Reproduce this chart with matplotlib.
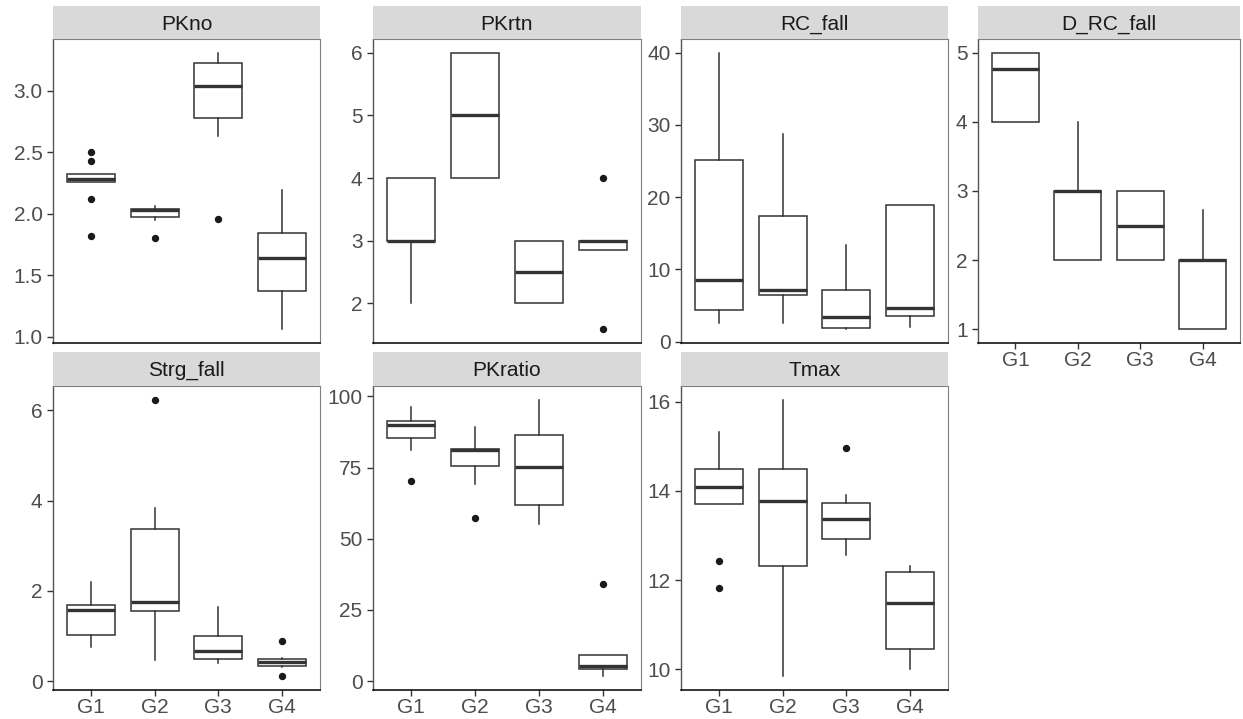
import matplotlib
matplotlib.use('Agg')
import matplotlib.pyplot as plt

groups = ['G1', 'G2', 'G3', 'G4']

# five-number summaries per group: lower whisker, q1, median, q3, upper whisker
pkno_lo = [2.255, 1.95, 2.63, 1.06]
pkno_q1 = [2.255, 1.97, 2.78, 1.37]
pkno_med = [2.28, 2.03, 3.04, 1.64]
pkno_q3 = [2.32, 2.04, 3.23, 1.84]
pkno_hi = [2.32, 2.06, 3.31, 2.19]
pkno_out = [[2.50, 2.43, 2.12, 1.82], [1.80], [1.955], []]

pkrtn_lo = [2.0, 4.0, 2.0, 2.85]
pkrtn_q1 = [3.0, 4.0, 2.0, 2.85]
pkrtn_med = [3.0, 5.0, 2.5, 3.0]
pkrtn_q3 = [4.0, 6.0, 3.0, 3.0]
pkrtn_hi = [4.0, 6.0, 3.0, 3.0]
pkrtn_out = [[], [], [], [4.0, 1.585]]

rc_lo = [2.54, 2.54, 1.71, 2.0]
rc_q1 = [4.39, 6.38, 1.85, 3.51]
rc_med = [8.46, 7.17, 3.42, 4.67]
rc_q3 = [25.2, 17.4, 7.12, 18.9]
rc_hi = [40.0, 28.7, 13.4, 18.9]
rc_out = [[], [], [], []]

drc_lo = [4.0, 2.0, 2.0, 1.0]
drc_q1 = [4.0, 2.0, 2.0, 1.0]
drc_med = [4.77, 3.0, 2.5, 2.0]
drc_q3 = [5.0, 3.0, 3.0, 2.0]
drc_hi = [5.0, 4.0, 3.0, 2.73]
drc_out = [[], [], [], []]

strg_lo = [0.76, 0.46, 0.40, 0.31]
strg_q1 = [1.02, 1.55, 0.49, 0.33]
strg_med = [1.57, 1.76, 0.66, 0.43]
strg_q3 = [1.69, 3.38, 0.99, 0.49]
strg_hi = [2.19, 3.84, 1.65, 0.51]
strg_out = [[], [6.23], [], [0.89, 0.11]]

ratio_lo = [81.3, 69.3, 55.3, 1.76]
ratio_q1 = [85.4, 75.6, 61.8, 4.45]
ratio_med = [89.9, 81.3, 75.2, 5.5]
ratio_q3 = [91.2, 81.6, 86.4, 9.25]
ratio_hi = [96.3, 89.3, 98.8, 9.25]
ratio_out = [[70.4], [57.3], [], [34.0]]

tmax_lo = [13.71, 9.85, 12.57, 10.0]
tmax_q1 = [13.71, 12.32, 12.93, 10.46]
tmax_med = [14.08, 13.78, 13.36, 11.49]
tmax_q3 = [14.49, 14.49, 13.72, 12.19]
tmax_hi = [15.32, 16.04, 13.91, 12.31]
tmax_out = [[12.44, 11.82], [], [14.97], []]

panels = [
    ('PKno', pkno_lo, pkno_q1, pkno_med, pkno_q3, pkno_hi, pkno_out, [1.0, 1.5, 2.0, 2.5, 3.0], '{:.1f}'),
    ('PKrtn', pkrtn_lo, pkrtn_q1, pkrtn_med, pkrtn_q3, pkrtn_hi, pkrtn_out, [2, 3, 4, 5, 6], '{:.0f}'),
    ('RC_fall', rc_lo, rc_q1, rc_med, rc_q3, rc_hi, rc_out, [0, 10, 20, 30, 40], '{:.0f}'),
    ('D_RC_fall', drc_lo, drc_q1, drc_med, drc_q3, drc_hi, drc_out, [1, 2, 3, 4, 5], '{:.0f}'),
    ('Strg_fall', strg_lo, strg_q1, strg_med, strg_q3, strg_hi, strg_out, [0, 2, 4, 6], '{:.0f}'),
    ('PKratio', ratio_lo, ratio_q1, ratio_med, ratio_q3, ratio_hi, ratio_out, [0, 25, 50, 75, 100], '{:.0f}'),
    ('Tmax', tmax_lo, tmax_q1, tmax_med, tmax_q3, tmax_hi, tmax_out, [10, 12, 14, 16], '{:.0f}'),
]

plt.rcParams['font.family'] = ['Liberation Sans', 'DejaVu Sans']

W, H = 1243, 719
fig = plt.figure(figsize=(W / 100, H / 100), dpi=100)

# panel geometry in pixels (facet_wrap style, free y scales)
col_left = [53, 373, 681, 978]
col_width = [267, 268, 267, 262]
row_strip_top = [6, 352]
row_panel_top = [39, 386]
row_panel_bot = [343, 690]

line_col = '#333333'
for i, (name, lo, q1, med, q3, hi, out, yticks, fmt) in enumerate(panels):
    r, c = divmod(i, 4)
    x0 = col_left[c] / W
    w = col_width[c] / W
    ptop, pbot = row_panel_top[r], row_panel_bot[r]
    ax = fig.add_axes([x0, 1 - pbot / H, w, (pbot - ptop) / H])
    sax = fig.add_axes([x0, 1 - ptop / H, w, (ptop - row_strip_top[r]) / H])
    sax.set_facecolor('#D9D9D9')
    sax.set_xticks([]); sax.set_yticks([])
    for s in sax.spines.values():
        s.set_visible(False)
    sax.text(0.5, 0.45, name, ha='center', va='center', fontsize=15, color='#1A1A1A',
             transform=sax.transAxes)

    stats = []
    for g in range(4):
        stats.append(dict(med=med[g], q1=q1[g], q3=q3[g], whislo=lo[g], whishi=hi[g],
                          fliers=out[g], label=groups[g]))
    ax.bxp(stats, positions=[1, 2, 3, 4], widths=0.75, showcaps=False, patch_artist=True,
           boxprops=dict(facecolor='white', edgecolor=line_col, linewidth=1.1),
           whiskerprops=dict(color=line_col, linewidth=1.1),
           medianprops=dict(color=line_col, linewidth=2.4, solid_capstyle='butt'),
           flierprops=dict(marker='o', markerfacecolor='#1A1A1A', markeredgecolor='#1A1A1A',
                           markersize=4.3, linestyle='none'))

    vals = lo + hi + [v for o in out for v in o]
    ymin, ymax = min(vals), max(vals)
    pad = (ymax - ymin) * 0.05
    ax.set_ylim(ymin - pad, ymax + pad)
    ax.set_xlim(0.4, 4.6)
    ax.set_yticks(yticks)
    ax.set_yticklabels([fmt.format(t) for t in yticks])
    ax.tick_params(axis='both', labelsize=15, labelcolor='#4D4D4D', color='#333333',
                   length=4, width=1)
    if r == 1 or c == 3:
        ax.set_xticks([1, 2, 3, 4])
        ax.set_xticklabels(groups)
        ax.tick_params(axis='x', pad=2)
    else:
        ax.set_xticks([])
    for s in ['top', 'right']:
        ax.spines[s].set_color('#7F7F7F')
        ax.spines[s].set_linewidth(0.8)
    ax.spines['left'].set_color('#555555')
    ax.spines['left'].set_linewidth(1.0)
    ax.spines['bottom'].set_color('black')
    ax.spines['bottom'].set_linewidth(1.1)

fig.savefig('out.png', dpi=100)
